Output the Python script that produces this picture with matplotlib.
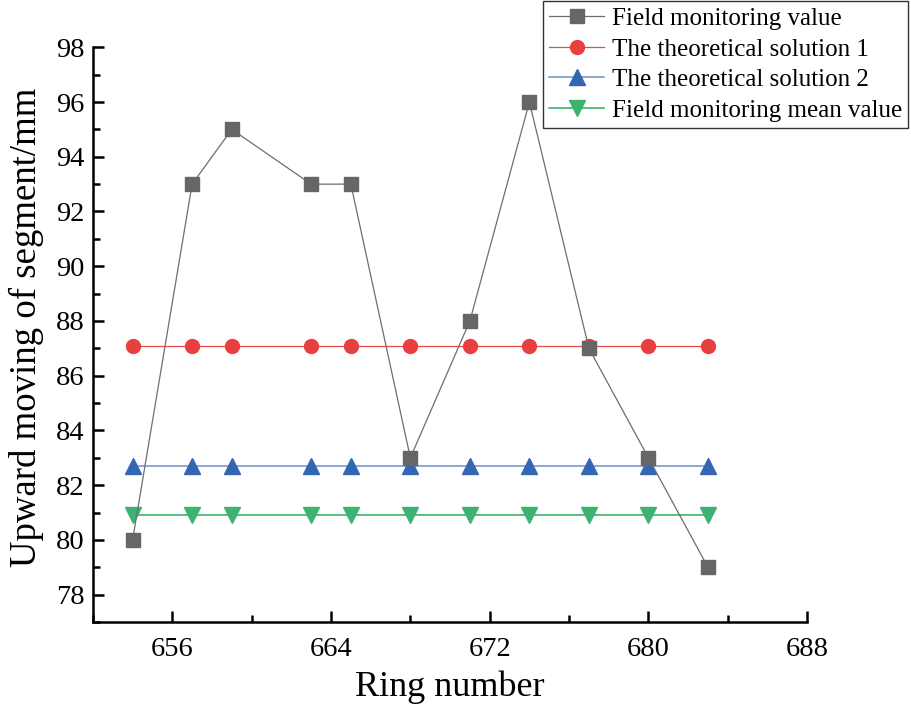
import matplotlib
matplotlib.use("Agg")
import matplotlib.pyplot as plt
from matplotlib.ticker import MultipleLocator

plt.rcParams['font.family'] = ['Liberation Serif', 'DejaVu Serif']
plt.rcParams['mathtext.fontset'] = 'stix'

# Ring numbers and measured / computed uplift values
rings = [654, 657, 659, 663, 665, 668, 671, 674, 677, 680, 683]
field_values = [80, 93, 95, 93, 93, 83, 88, 96, 87, 83, 79]
theory_1 = [87.1] * len(rings)
theory_2 = [82.7] * len(rings)
field_mean = [80.9] * len(rings)

labels = ["Field monitoring value", "The theoretical solution 1",
          "The theoretical solution 2", "Field monitoring mean value"]

fig = plt.figure(figsize=(9.11, 7.06), dpi=100)
ax = fig.add_axes([0.102, 0.119, 0.784, 0.814])

h1, = ax.plot(rings, field_values, color='#6e6e6e', lw=0.9, marker='s', ms=9.5,
              mfc='#666666', mec='#666666', label=labels[0], zorder=5)
h2, = ax.plot(rings, theory_1, color='#e84a4a', lw=0.9, marker='o', ms=10,
              mfc='#e84040', mec='#e84040', label=labels[1], zorder=3)
h3, = ax.plot(rings, theory_2, color='#7a9ad0', lw=1.2, marker='^', ms=11,
              mfc='#3366b3', mec='#3366b3', label=labels[2], zorder=4)
h4, = ax.plot(rings, field_mean, color='#3cb371', lw=1.2, marker='v', ms=11,
              mfc='#3cb371', mec='#3cb371', label=labels[3], zorder=4)

ax.set_xlim(652, 688)
ax.set_ylim(77, 98)
ax.xaxis.set_major_locator(MultipleLocator(8))
ax.xaxis.set_minor_locator(MultipleLocator(4))
ax.yaxis.set_minor_locator(MultipleLocator(1))
ax.set_yticks([78, 80, 82, 84, 86, 88, 90, 92, 94, 96, 98])

for side in ['top', 'right']:
    ax.spines[side].set_visible(False)
for side in ['left', 'bottom']:
    ax.spines[side].set_linewidth(1.8)

ax.tick_params(which='major', direction='in', length=8, width=1.8, labelsize=20.5)
ax.tick_params(axis='x', which='major', pad=11)
ax.tick_params(axis='y', which='major', pad=6)
ax.tick_params(which='minor', direction='in', length=5, width=1.8)

ax.set_xlabel("Ring number", fontsize=26, labelpad=6)
ax.set_ylabel("Upward moving of segment/mm", fontsize=26.5)
ax.yaxis.set_label_coords(-0.068, 0.513)

leg = fig.legend(handles=[h1, h2, h3, h4], loc='upper right',
                 bbox_to_anchor=(0.997, 0.998), fontsize=18, frameon=True,
                 fancybox=False, edgecolor='#333333', framealpha=1,
                 labelspacing=0.32, handlelength=2.2, handletextpad=0.3,
                 borderpad=0.25, borderaxespad=0.0)
leg.get_frame().set_linewidth(1.0)

fig.savefig("out.png", dpi=100)
